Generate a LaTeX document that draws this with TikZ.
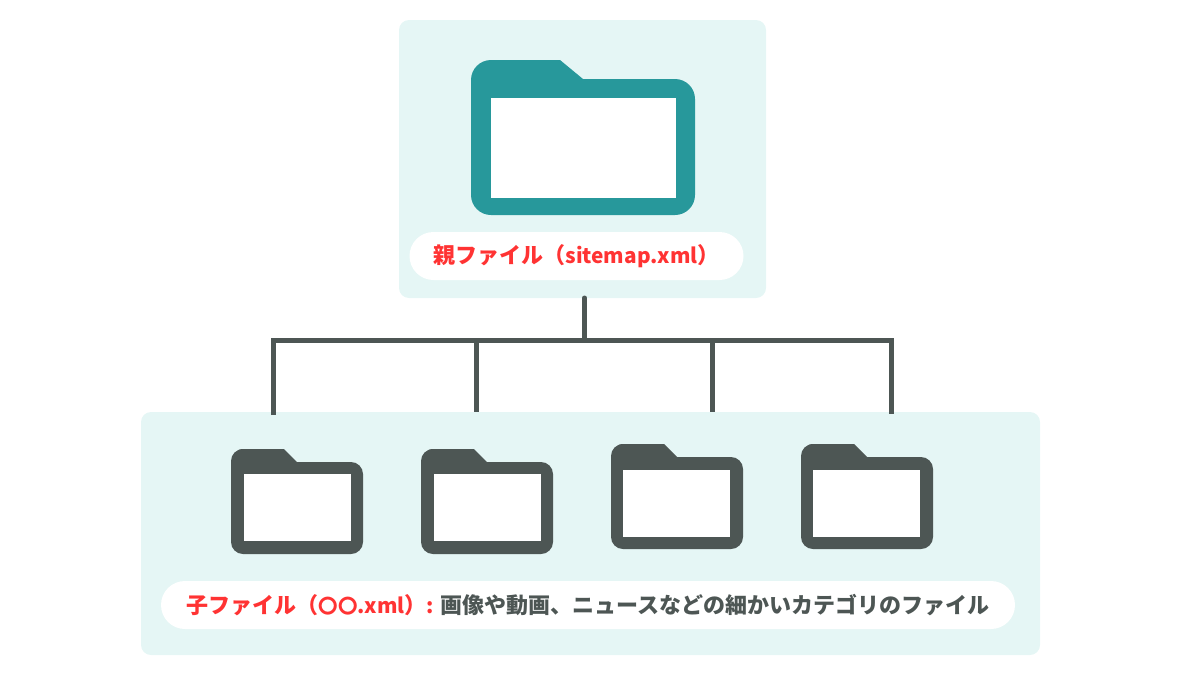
\documentclass[tikz,border=0pt]{standalone}
\usepackage{fontspec}
\setmainfont{Noto Sans CJK JP}
\definecolor{panelbg}{HTML}{E5F6F5}
\definecolor{folderteal}{HTML}{27989B}
\definecolor{slate}{HTML}{4D5654}
\definecolor{labelred}{HTML}{FF3333}
\newcommand{\latinpart}[1]{{\fontsize{15.6}{20}\selectfont #1}}
\newcommand{\circpart}[1]{{\fontsize{14.6}{20}\selectfont #1}}
\tikzset{
    panel/.style={fill=panelbg, rounded corners=7.5pt, inner sep=0pt},
    pill/.style={fill=white, rounded corners=18pt, inner sep=0pt, minimum height=36pt,
        font=\fontsize{16.5}{20}\selectfont\bfseries, text=labelred},
    wire/.style={draw=slate, line width=3.75pt},
    pics/smallfolder/.style={code={
        \fill[slate] (53,0) -- (66,13) -- (75,13) [rounded corners=9pt] -- (132,13) -- (132,105)
            -- (0,105) -- (0,0) -- (20,0) [sharp corners] -- cycle;
    }}
}
\begin{document}
\begin{tikzpicture}[x=0.75pt, y=-0.75pt]
    \useasboundingbox (0,0) rectangle (1200,675);
    \node[panel, minimum width=275.25pt, minimum height=208.5pt] (parentbox) at (582.5,159) {};
    \node[panel, minimum width=674.25pt, minimum height=182.25pt] (childbox) at (590.5,533.5) {};
    % big folder
    \fill[folderteal] (560,60) -- (583,79) -- (600,79) [rounded corners=15pt] -- (695,79) -- (695,215)
        -- (471,215) -- (471,60) -- (510,60) [sharp corners] -- cycle;
    \fill[white] (491,98) rectangle (676,198);
    \foreach \fname/\fx/\fy/\ix/\iy in {foldera/231/449/244/474,folderb/421/449/434/474,folderc/611/444/623/470,folderd/801/444/813/470}{
        \pic (\fname) at (\fx,\fy) {smallfolder};
        \fill[white] (\ix,\iy) rectangle +(107,67);
    }
    \node[pill, minimum width=250.5pt] (parentlabel) at (576.5,256) {親ファイル（\latinpart{sitemap.xml}）};
    \node[pill, minimum width=640.5pt] (childlabel) at (588,605)
        {子ファイル（\circpart{〇〇}\latinpart{.xml}）\latinpart{:}\hspace{5pt}\textcolor{slate}{画像や動画、ニュースなどの細かいカテゴリのファイル}};
    % tree
    \coordinate (top) at (584.5,298);
    \coordinate (hub) at (584.5,340);
    \coordinate (busa) at (273.5,340);
    \coordinate (busb) at (476.5,340);
    \coordinate (busc) at (712.5,340);
    \coordinate (busd) at (891.5,340);
    \coordinate (enda) at (273.5,415);
    \coordinate (endb) at (476.5,412);
    \coordinate (endc) at (712.5,412);
    \coordinate (endd) at (891.5,414);
    \draw[wire, line cap=round] (top) -- (hub);
    \draw[wire, line join=miter] (enda) -- (busa) -- (busd) -- (endd);
    \draw[wire] (busb) -- (endb);
    \draw[wire] (busc) -- (endc);
\end{tikzpicture}
\end{document}
